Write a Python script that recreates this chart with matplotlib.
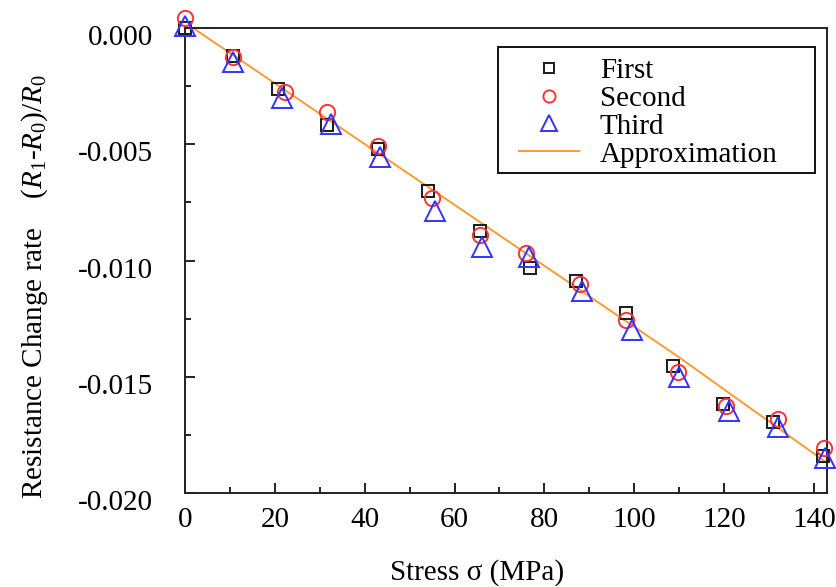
import matplotlib
matplotlib.use("Agg")
import matplotlib.pyplot as plt
from matplotlib.transforms import ScaledTranslation
from matplotlib.ticker import MultipleLocator
from matplotlib.patches import Rectangle

plt.rcParams["font.family"] = ["Liberation Serif", "DejaVu Serif"]
plt.rcParams["mathtext.fontset"] = "custom"
plt.rcParams["mathtext.rm"] = "Liberation Serif"
plt.rcParams["mathtext.it"] = "Liberation Serif:italic"

# Stress (MPa) and resistance change rate for three loading runs
first_x = [0, 10.6, 20.6, 31.6, 42.9, 54.0, 65.6, 76.8, 87.0, 98.1, 108.6, 119.7, 130.9, 142.0]
first_y = [0.0000, -0.00121, -0.00263, -0.00418, -0.00520, -0.00703, -0.00875,
           -0.01034, -0.01090, -0.01224, -0.01453, -0.01616, -0.01694, -0.01840]

second_x = [0, 10.6, 22.2, 31.7, 42.9, 54.9, 65.6, 75.8, 87.9, 98.1, 109.7, 120.4, 131.9, 142.2]
second_y = [0.00043, -0.00125, -0.00276, -0.00362, -0.00508, -0.00733, -0.00892,
            -0.00966, -0.01100, -0.01254, -0.01478, -0.01625, -0.01681, -0.01806]

third_x = [0, 10.6, 21.5, 32.5, 43.5, 55.6, 66.0, 76.5, 88.3, 99.4, 109.9, 121.1, 131.9, 142.4]
third_y = [0.00009, -0.00147, -0.00302, -0.00414, -0.00556, -0.00789, -0.00940,
           -0.00983, -0.01130, -0.01297, -0.01500, -0.01647, -0.01716, -0.01849]

# Fitted approximation curve
approx_x = [0.5, 60.5, 110.1, 143.5]
approx_y = [0.00017, -0.00767, -0.01418, -0.01879]

x_ticks = [0, 20, 40, 60, 80, 100, 120, 140]
y_ticks = [0.000, -0.005, -0.010, -0.015, -0.020]
y_tick_labels = ["0.000", "-0.005", "-0.010", "-0.015", "-0.020"]

FS = 21

fig = plt.figure(figsize=(8.37, 5.87), dpi=100)
ax = fig.add_axes([0.2210, 0.1601, 0.7671, 0.7922])

ax.plot(approx_x, approx_y, color="#ff9933", lw=1.4, label="Approximation", zorder=2)
ax.plot(first_x, first_y, ls="none", marker="s", ms=9, mfc="none", mec="#1a1a1a",
        mew=1.4, label="First", clip_on=False, zorder=3)
ax.plot(second_x, second_y, ls="none", marker="o", ms=11, mfc="none", mec="#ff3333",
        mew=1.4, label="Second", clip_on=False, zorder=4)
ax.plot(third_x, third_y, ls="none", marker="^", ms=14, mfc="none", mec="#3333ff",
        mew=1.4, label="Third", clip_on=False, zorder=5)

ax.set_xlim(0, 142.9)
ax.set_ylim(-0.020, 0.0)
ax.set_xticks(x_ticks)
ax.set_xticklabels([str(v) for v in x_ticks])
ax.set_yticks(y_ticks)
ax.set_yticklabels(y_tick_labels)
ax.xaxis.set_minor_locator(MultipleLocator(10))
ax.yaxis.set_minor_locator(MultipleLocator(0.0025))

for s in ax.spines.values():
    s.set_linewidth(1.4)
    s.set_color("#222222")

ax.tick_params(axis="both", which="both", direction="in", top=False, right=False,
               color="#222222", width=1.4, labelsize=FS)
ax.tick_params(axis="both", which="major", length=7.5)
ax.tick_params(axis="both", which="minor", length=4)
ax.tick_params(axis="y", which="major", pad=23)
ax.tick_params(axis="x", which="major", pad=10)

shift = ScaledTranslation(0, -7 / 100, fig.dpi_scale_trans)
for lab in ax.get_yticklabels():
    lab.set_transform(lab.get_transform() + shift)

# Legend entries without their own frame; a separate box is drawn around them
handles, labels = ax.get_legend_handles_labels()
order = [1, 2, 3, 0]
leg = ax.legend([handles[i] for i in order], [labels[i] for i in order],
                loc="upper left", bbox_to_anchor=(0.520, 0.9365), borderaxespad=0,
                fontsize=FS, frameon=False, markerscale=0.8,
                labelspacing=0.05, handlelength=2.06, handletextpad=0.72,
                borderpad=0)
ax.add_patch(Rectangle((0.4875, 0.688), 0.4938, 0.271, transform=ax.transAxes,
                       fill=False, edgecolor="#111111", lw=1.4, zorder=6))

fig.text(477 / 837, 1 - 573 / 587, "Stress σ (MPa)", fontsize=FS, ha="center", va="center")
fig.text(35 / 837, 1 - 287 / 587,
         "Resistance Change rate    "
         + r"$(R_{\mathit{1}}$-$R_{\mathit{0}})/R_{\mathit{0}}$",
         fontsize=FS, rotation=90, ha="center", va="center")

fig.savefig("out.png", dpi=100)
